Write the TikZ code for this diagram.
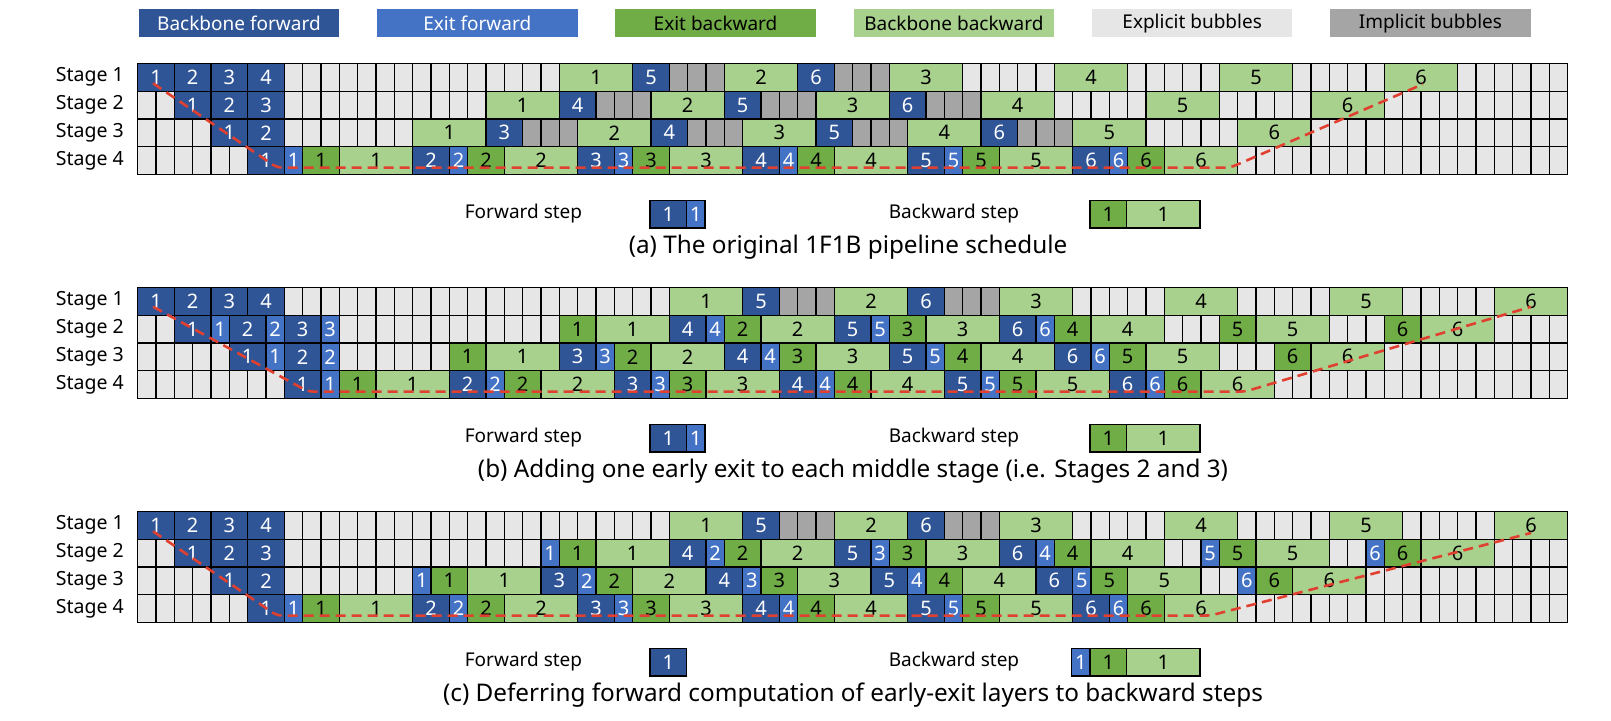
\documentclass[tikz,border=0pt]{standalone}
\usepackage{fontspec}
\setmainfont{Noto Sans}
\definecolor{bfc}{HTML}{2F5597}
\definecolor{efc}{HTML}{4472C4}
\definecolor{ebc}{HTML}{70AD47}
\definecolor{bbc}{HTML}{A9D18E}
\definecolor{xbc}{HTML}{E7E6E6}
\definecolor{ibc}{HTML}{A5A5A5}
\definecolor{redl}{HTML}{E0402F}
\newcommand\cW{18.333}
\newcommand\rH{27.8}
\newcommand\gX{137.7}
\def\pY{63.3}
\def\pN{a}
\newcommand\blk[5]{\node[blk,#4,minimum width={(#3*\cW)*1pt}] (\pN-#1-#2) at ({\gX+(#2+#3/2)*\cW},{\pY+(#1+0.5)*\rH}) {#5};}
\newcommand\sFw[3]{\blk{#1}{#2}{2}{kbf}{#3}}
\newcommand\sFwE[3]{\blk{#1}{#2}{2}{kbf}{#3}\pgfmathtruncatemacro\tmpA{#2+2}\blk{#1}{\tmpA}{1}{kef}{#3}}
\newcommand\sBw[3]{\blk{#1}{#2}{4}{kbb}{#3}}
\newcommand\sBwE[3]{\blk{#1}{#2}{2}{keb}{#3}\pgfmathtruncatemacro\tmpA{#2+2}\blk{#1}{\tmpA}{4}{kbb}{#3}}
\newcommand\sBwX[3]{\blk{#1}{#2}{1}{kef}{#3}\pgfmathtruncatemacro\tmpA{#2+1}\blk{#1}{\tmpA}{2}{keb}{#3}\pgfmathtruncatemacro\tmpB{#2+3}\blk{#1}{\tmpB}{4}{kbb}{#3}}
\newcommand\sIb[2]{\foreach \q in {0,1,2}{\pgfmathtruncatemacro\tq{#2+\q}\blk{#1}{\tq}{1}{kib}{}}}
\newcommand\sGrid{%
 \fill[xbc] (\gX,\pY) rectangle ({\gX+78*\cW},{\pY+4*\rH});
 \foreach \c in {0,...,78}{\draw[gridl] ({\gX+\c*\cW},\pY) -- ({\gX+\c*\cW},{\pY+4*\rH});}
 \foreach \r in {0,...,4}{\draw[gridl] (\gX,{\pY+\r*\rH}) -- ({\gX+78*\cW},{\pY+\r*\rH});}
 \foreach \r/\t in {0/1,1/2,2/3,3/4}{\node[stagel] (\pN-st\t) at (124,{\pY+(\r+0.5)*\rH}) {Stage \t};}}
\newcommand\sStage{% stage 1 of panels b and c
 \sFw{0}{0}{1}\sFw{0}{2}{2}\sFw{0}{4}{3}\sFw{0}{6}{4}
 \sBw{0}{29}{1}\sFw{0}{33}{5}\sIb{0}{35}\sBw{0}{38}{2}\sFw{0}{42}{6}\sIb{0}{44}
 \sBw{0}{47}{3}\sBw{0}{56}{4}\sBw{0}{65}{5}\sBw{0}{74}{6}}
\newcommand\sLast[2]{% stage 4: first forward start, first backward start
 \foreach \k in {1,...,6}{\pgfmathtruncatemacro\sa{#1+9*(\k-1)}\pgfmathtruncatemacro\sb{#2+9*(\k-1)}\sFwE{3}{\sa}{\k}\sBwE{3}{\sb}{\k}}}
\begin{document}
\begin{tikzpicture}[x=1pt,y=-1pt,
  gridl/.style={draw=black,line width=1.2pt},
  blk/.style={draw=black,line width=1.2pt,inner sep=0pt,outer sep=0pt,minimum height={\rH*1pt},font=\fontsize{20}{22}\selectfont},
  kbf/.style={fill=bfc,text=white},
  kef/.style={fill=efc,text=white},
  keb/.style={fill=ebc,text=black},
  kbb/.style={fill=bbc,text=black},
  kib/.style={fill=ibc},
  stagel/.style={anchor=east,inner sep=0pt,font=\fontsize{19.5}{22}\selectfont},
  lt/.style={inner sep=0pt,font=\fontsize{19}{22}\selectfont},
  captxt/.style={inner sep=0pt,font=\fontsize{24.3}{28}\selectfont},
  leg/.style={inner sep=0pt,minimum width=200.5pt,minimum height=28pt,font=\fontsize{19}{21}\selectfont},
  redline/.style={draw=redl,line width=2.6pt,dash pattern=on 10pt off 6pt,rounded corners=5pt}]
\useasboundingbox (0,0) rectangle (1611,720);
\fill[white] (0,0) rectangle (1611,720);
% top legend
\node[leg,fill=bfc,text=white] (lg1) at (238.95,23.3) {Backbone forward};
\node[leg,fill=efc,text=white] (lg2) at (477.25,23.3) {Exit forward};
\node[leg,fill=ebc] (lg3) at (715.55,23.3) {Exit backward};
\node[leg,fill=bbc] (lg4) at (953.85,23.3) {Backbone backward};
\node[leg,fill=xbc] (lg5) at (1192.15,23.3) {Explicit bubbles};
\node[leg,fill=ibc] (lg6) at (1430.45,23.3) {Implicit bubbles};
% ---------- panel (a)
\def\pY{63.3}\def\pN{a}
\sGrid
\sFw{0}{0}{1}\sFw{0}{2}{2}\sFw{0}{4}{3}\sFw{0}{6}{4}
\sBw{0}{23}{1}\sFw{0}{27}{5}\sIb{0}{29}\sBw{0}{32}{2}\sFw{0}{36}{6}\sIb{0}{38}
\sBw{0}{41}{3}\sBw{0}{50}{4}\sBw{0}{59}{5}\sBw{0}{68}{6}
\sFw{1}{2}{1}\sFw{1}{4}{2}\sFw{1}{6}{3}
\sBw{1}{19}{1}\sFw{1}{23}{4}\sIb{1}{25}\sBw{1}{28}{2}\sFw{1}{32}{5}\sIb{1}{34}
\sBw{1}{37}{3}\sFw{1}{41}{6}\sIb{1}{43}\sBw{1}{46}{4}\sBw{1}{55}{5}\sBw{1}{64}{6}
\sFw{2}{4}{1}\sFw{2}{6}{2}
\sBw{2}{15}{1}\sFw{2}{19}{3}\sIb{2}{21}\sBw{2}{24}{2}\sFw{2}{28}{4}\sIb{2}{30}
\sBw{2}{33}{3}\sFw{2}{37}{5}\sIb{2}{39}\sBw{2}{42}{4}\sFw{2}{46}{6}\sIb{2}{48}
\sBw{2}{51}{5}\sBw{2}{60}{6}
\sLast{6}{9}
\coordinate (a-l0) at ({\gX+0.84*\cW},{\pY+0.72*\rH});
\coordinate (a-l1) at ({\gX+7.6*\cW},{\pY+3.75*\rH});
\coordinate (a-l2) at ({\gX+59.6*\cW},{\pY+3.75*\rH});
\coordinate (a-l3) at ({\gX+70.1*\cW},{\pY+0.75*\rH});
\draw[redline] (a-l0) -- (a-l1) -- (a-l2) -- (a-l3);
\node[lt] (a-fs) at (523.5,{\pY+150.7}) {Forward step};
\node[blk,kbf,minimum width={2*\cW*1pt}] (a-fs1) at (668.3,{\pY+150.7}) {1};
\node[blk,kef,minimum width={\cW*1pt}] (a-fs2) at (695.8,{\pY+150.7}) {1};
\node[lt] (a-bs) at (954,{\pY+150.7}) {Backward step};
\node[blk,keb,minimum width={2*\cW*1pt}] (a-bs1) at (1108.3,{\pY+150.7}) {1};
\node[blk,kbb,minimum width={4*\cW*1pt}] (a-bs2) at (1163.3,{\pY+150.7}) {1};
\node[captxt] (a-cap) at (848,{\pY+183.7}) {(a) The original 1F1B pipeline schedule};
% ---------- panel (b)
\def\pY{287.3}\def\pN{b}
\sGrid
\sStage
\sFwE{1}{2}{1}\sFwE{1}{5}{2}\sFwE{1}{8}{3}
\sBwE{1}{23}{1}\sFwE{1}{29}{4}\sBwE{1}{32}{2}\sFwE{1}{38}{5}\sBwE{1}{41}{3}
\sFwE{1}{47}{6}\sBwE{1}{50}{4}\sBwE{1}{59}{5}\sBwE{1}{68}{6}
\sFwE{2}{5}{1}\sFwE{2}{8}{2}
\sBwE{2}{17}{1}\sFwE{2}{23}{3}\sBwE{2}{26}{2}\sFwE{2}{32}{4}\sBwE{2}{35}{3}
\sFwE{2}{41}{5}\sBwE{2}{44}{4}\sFwE{2}{50}{6}\sBwE{2}{53}{5}\sBwE{2}{62}{6}
\sLast{8}{11}
\coordinate (b-l0) at ({\gX+0.84*\cW},{\pY+0.7*\rH});
\coordinate (b-l1) at ({\gX+9.3*\cW},{\pY+3.75*\rH});
\coordinate (b-l2) at ({\gX+60.4*\cW},{\pY+3.75*\rH});
\coordinate (b-l3) at ({\gX+76*\cW},{\pY+0.7*\rH});
\draw[redline] (b-l0) -- (b-l1) -- (b-l2) -- (b-l3);
\node[lt] (b-fs) at (523.5,{\pY+150.7}) {Forward step};
\node[blk,kbf,minimum width={2*\cW*1pt}] (b-fs1) at (668.3,{\pY+150.7}) {1};
\node[blk,kef,minimum width={\cW*1pt}] (b-fs2) at (695.8,{\pY+150.7}) {1};
\node[lt] (b-bs) at (954,{\pY+150.7}) {Backward step};
\node[blk,keb,minimum width={2*\cW*1pt}] (b-bs1) at (1108.3,{\pY+150.7}) {1};
\node[blk,kbb,minimum width={4*\cW*1pt}] (b-bs2) at (1163.3,{\pY+150.7}) {1};
\node[captxt] (b-cap) at (853,{\pY+183.7}) {(b) Adding one early exit to each middle stage (i.e. Stages 2 and 3)};
% ---------- panel (c)
\def\pY{511.3}\def\pN{c}
\sGrid
\sStage
\sFw{1}{2}{1}\sFw{1}{4}{2}\sFw{1}{6}{3}
\sBwX{1}{22}{1}\sFw{1}{29}{4}\sBwX{1}{31}{2}\sFw{1}{38}{5}\sBwX{1}{40}{3}
\sFw{1}{47}{6}\sBwX{1}{49}{4}\sBwX{1}{58}{5}\sBwX{1}{67}{6}
\sFw{2}{4}{1}\sFw{2}{6}{2}
\sBwX{2}{15}{1}\sFw{2}{22}{3}\sBwX{2}{24}{2}\sFw{2}{31}{4}\sBwX{2}{33}{3}
\sFw{2}{40}{5}\sBwX{2}{42}{4}\sFw{2}{49}{6}\sBwX{2}{51}{5}\sBwX{2}{60}{6}
\sLast{6}{9}
\coordinate (c-l0) at ({\gX+0.84*\cW},{\pY+0.72*\rH});
\coordinate (c-l1) at ({\gX+7.6*\cW},{\pY+3.75*\rH});
\coordinate (c-l2) at ({\gX+58.5*\cW},{\pY+3.75*\rH});
\coordinate (c-l3) at ({\gX+76*\cW},{\pY+0.78*\rH});
\draw[redline] (c-l0) -- (c-l1) -- (c-l2) -- (c-l3);
\node[lt] (c-fs) at (523.5,{\pY+150.7}) {Forward step};
\node[blk,kbf,minimum width={2*\cW*1pt}] (c-fs1) at (668.3,{\pY+150.7}) {1};
\node[lt] (c-bs) at (954,{\pY+150.7}) {Backward step};
\node[blk,kef,minimum width={\cW*1pt}] (c-bs0) at (1080.8,{\pY+150.7}) {1};
\node[blk,keb,minimum width={2*\cW*1pt}] (c-bs1) at (1108.3,{\pY+150.7}) {1};
\node[blk,kbb,minimum width={4*\cW*1pt}] (c-bs2) at (1163.3,{\pY+150.7}) {1};
\node[captxt] (c-cap) at (853,{\pY+183.7}) {(c) Deferring forward computation of early-exit layers to backward steps};
\end{tikzpicture}
\end{document}
